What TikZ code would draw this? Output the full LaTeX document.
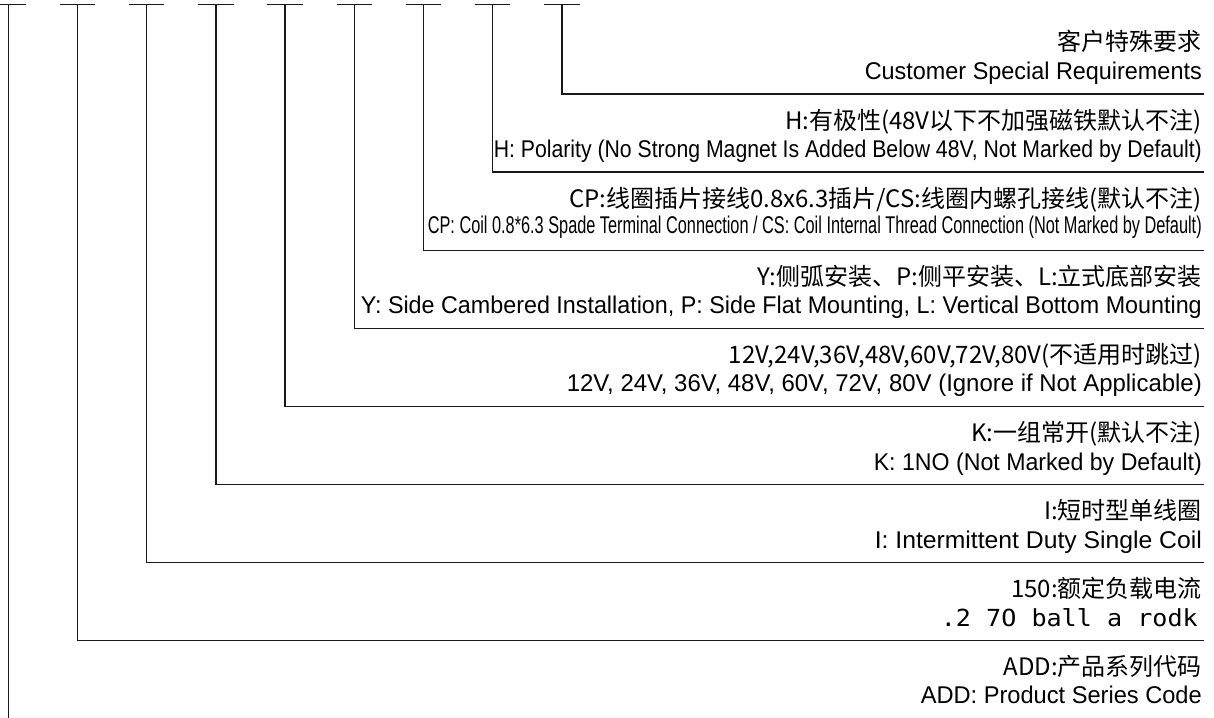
\documentclass[tikz,border=0pt]{standalone}
\usepackage{fontspec}
\usepackage{graphicx}
\setmainfont{Liberation Sans}
\newfontfamily\cjkf{Noto Sans CJK SC}
\newfontfamily\monof{DejaVu Sans Mono}
\newcommand\fitw[2]{\resizebox{#1pt}{\height}{#2}}
\begin{document}
\begin{tikzpicture}[x=1pt,y=-1pt,
  cn/.style={anchor=base east,inner sep=0pt,font=\cjkf\fontsize{24}{28}\selectfont},
  en/.style={anchor=base east,inner sep=0pt,font=\fontsize{24.2}{28}\selectfont},
  wire/.style={line width=1.35pt,draw=black!90,line cap=rect},
  ]
\useasboundingbox (0,0) rectangle (1214,717);

% tick bars and corners
\foreach \i/\xx/\yy in {1/8.3/718,2/77.5/640.7,3/146.7/562.6,4/215.9/484.5,5/285.1/406.4,6/354.3/328.3,7/423.5/250.2,8/492.7/172.1,9/561.9/94}{
  \coordinate (bl\i) at (\xx-17,4.7);
  \coordinate (br\i) at (\xx+17,4.7);
  \coordinate (t\i) at (\xx,4.7);
  \coordinate (c\i) at (\xx,\yy);
  \coordinate (e\i) at (1203,\yy);
  \coordinate (txt\i) at (1202,\yy);
}
\coordinate (c1end) at (8.3,717);

\foreach \i in {1,...,9}{\draw[wire] (bl\i) -- (br\i);}
\draw[wire] (t1) -- (c1end);
\foreach \i in {2,...,9}{\draw[wire] (t\i) -- (c\i) -- (e\i);}

% texts
\node[cn] (cn9) at ([yshift=43pt]txt9) {客户特殊要求};
\node[en] (en9) at ([yshift=14.5pt]txt9) {\fitw{337}{Customer Special Requirements}};

\node[cn] (cn8) at ([yshift=43pt]txt8) {H:有极性(48V以下不加强磁铁默认不注)};
\node[en] (en8) at ([yshift=14.5pt]txt8) {\fitw{708}{H: Polarity (No Strong Magnet Is Added Below 48V, Not Marked by Default)}};

\node[cn] (cn7) at ([yshift=43pt]txt7) {CP:线圈插片接线0.8x6.3插片/CS:线圈内螺孔接线(默认不注)};
\node[en] (en7) at ([yshift=16.5pt]txt7) {\fitw{774}{CP: Coil 0.8*6.3 Spade Terminal Connection / CS: Coil Internal Thread Connection (Not Marked by Default)}};

\node[cn] (cn6) at ([yshift=43pt]txt6) {Y:侧弧安装、P:侧平安装、L:立式底部安装};
\node[en] (en6) at ([yshift=14.5pt]txt6) {\fitw{841}{Y: Side Cambered Installation, P: Side Flat Mounting, L: Vertical Bottom Mounting}};

\node[cn] (cn5) at ([yshift=43pt]txt5) {12V,24V,36V,48V,60V,72V,80V(不适用时跳过)};
\node[en] (en5) at ([yshift=14.5pt]txt5) {\fitw{635}{12V, 24V, 36V, 48V, 60V, 72V, 80V (Ignore if Not Applicable)}};

\node[cn] (cn4) at ([yshift=43pt]txt4) {K:一组常开(默认不注)};
\node[en] (en4) at ([yshift=14.5pt]txt4) {\fitw{328}{K: 1NO (Not Marked by Default)}};

\node[cn] (cn3) at ([yshift=43pt]txt3) {I:短时型单线圈};
\node[en] (en3) at ([yshift=14.5pt]txt3) {\fitw{327}{I: Intermittent Duty Single Coil}};

\node[cn] (cn2) at ([yshift=43pt]txt2) {150:额定负载电流};
\node[en] (en2) at ([xshift=-4pt,yshift=14.5pt]txt2) {\fitw{257}{\monof\fontsize{23.5}{28}\selectfont .2 7O ball a rodk}};

\node[cn] (cn1) at ([yshift=43pt]txt1) {ADD:产品系列代码};
\node[en] (en1) at ([yshift=14.5pt]txt1) {\fitw{281}{ADD: Product Series Code}};
\end{tikzpicture}
\end{document}
